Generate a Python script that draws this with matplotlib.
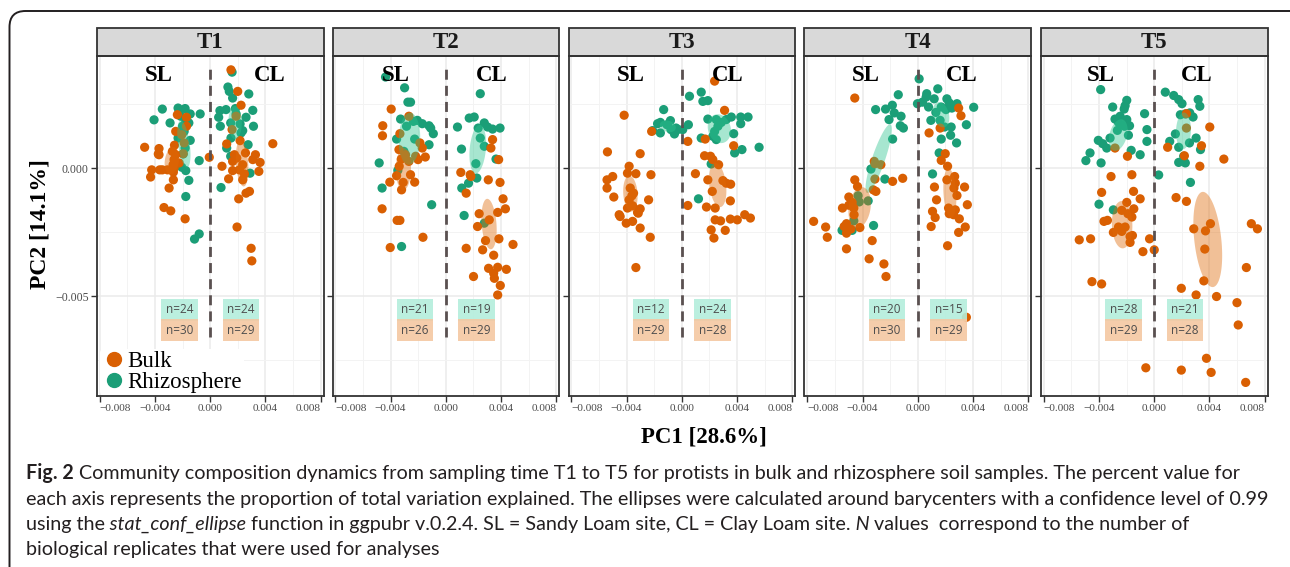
import numpy as np
import matplotlib
matplotlib.use("Agg")
import matplotlib.pyplot as plt
from matplotlib.patches import Rectangle, FancyBboxPatch, Polygon
from matplotlib.lines import Line2D
from matplotlib.transforms import IdentityTransform, ScaledTranslation

# ---------------- data (PCoA coordinates, in units of 1e-3) ----------------
UNIT = 1e-3
times = ["T1", "T2", "T3", "T4", "T5"]

T1_SL_rhizo_x = [-3.47,-4.07,-2.91,-2.33,-1.82,-1.45,-0.73,-2.13,-1.77,-1.55,-2.01,-2.33,-1.45,-1.82,-1.96,-0.80,-2.06,-1.77,-1.55,-1.77,-0.80,-1.14,-1.89,-2.25]
T1_SL_rhizo_y = [2.30,1.88,1.76,2.34,2.32,2.11,2.11,2.02,1.82,1.76,1.63,1.17,1.08,0.78,0.55,0.29,0.03,-0.10,-0.48,-1.11,-2.57,-2.77,1.43,2.21]
T1_SL_bulk_x = [-2.38,-1.72,-1.72,-2.50,-2.06,-1.89,-4.75,-3.71,-3.76,-2.59,-2.74,-1.96,-2.62,-2.69,-3.47,-3.66,-4.24,-4.32,-2.67,-2.67,-2.98,-3.35,-2.86,-1.82,-0.07,-3.71,-2.50,-2.62,-3.10,-2.25]
T1_SL_bulk_y = [2.08,1.98,1.63,1.43,1.30,0.98,0.81,0.76,0.55,0.89,0.65,0.56,0.33,0.13,-0.07,-0.07,-0.07,-0.35,-0.16,-0.46,-0.78,-1.54,-1.67,-1.98,0.42,0.52,0.52,0.00,-0.07,0.20]
T1_CL_rhizo_x = [1.58,1.28,1.38,1.62,2.79,0.70,1.14,1.82,3.08,0.61,2.59,1.48,2.16,3.13,0.73,2.35,1.50,2.23,2.74,1.19,1.48,2.88,0.78,1.87]
T1_CL_rhizo_y = [3.74,3.16,2.99,2.73,2.89,2.24,2.28,2.32,2.25,1.98,1.98,1.76,1.72,1.63,1.63,1.46,1.17,1.37,0.91,0.78,0.46,-0.20,-0.76,2.11]
T1_CL_bulk_x = [1.50,1.99,2.23,1.87,1.58,2.16,1.19,4.53,2.55,3.27,3.08,3.61,0.85,1.62,2.35,1.62,3.52,2.11,2.47,1.33,2.84,2.59,2.06,1.94,2.96,3.01,1.92,2.35,1.75]
T1_CL_bulk_y = [3.83,2.99,2.45,2.02,1.50,1.07,0.94,0.95,0.59,0.52,0.33,0.22,0.07,0.26,0.13,-0.10,-0.13,-0.07,-0.23,-0.42,-0.91,-0.98,-1.20,-2.30,-3.13,-3.62,0.39,-0.46,0.52]

T2_SL_rhizo_x = [-4.36,-2.98,-2.74,-2.55,-3.27,-2.84,-2.35,-2.06,-1.70,-1.21,-1.09,-0.90,-2.25,-3.56,-3.03,-4.82,-3.47,-4.61,-1.02,-3.20,-1.21]
T2_SL_rhizo_y = [3.55,3.13,2.57,2.57,1.91,1.63,1.82,1.86,1.73,1.65,1.56,1.34,1.13,1.13,0.65,0.20,-0.09,-0.78,-1.43,-3.06,0.91]
T2_SL_bulk_x = [-3.95,-2.67,-4.56,-4.58,-3.32,-1.87,-1.70,-3.39,-2.91,-2.18,-2.01,-1.48,-3.22,-3.37,-2.67,-2.55,-3.56,-3.08,-4.05,-2.25,-3.20,-4.61,-3.52,-3.32,-1.65,-4.02]
T2_SL_bulk_y = [2.30,2.02,1.65,1.26,1.34,0.98,0.78,0.72,0.52,0.46,0.33,0.43,0.35,0.07,0.26,-0.26,-0.30,-0.56,-0.55,-0.55,-0.85,-1.59,-2.04,-2.04,-2.70,-3.10]
T2_CL_rhizo_x = [2.50,1.70,2.06,0.85,2.35,2.79,3.03,3.39,3.93,2.50,2.79,1.14,2.18,3.64,2.25,1.65,1.16,1.33,2.79]
T2_CL_rhizo_y = [2.90,1.95,1.99,1.60,1.56,1.76,1.60,1.52,1.56,1.17,0.85,0.74,0.17,0.35,-0.39,-0.59,-0.78,-1.85,-2.15]
T2_CL_bulk_x = [3.39,3.27,3.83,1.09,1.77,3.08,3.93,1.48,4.15,4.32,3.76,2.42,2.30,2.88,3.85,4.87,1.48,2.67,3.47,3.10,3.76,4.39,3.47,3.52,2.01,3.95,3.76,3.15,1.82]
T2_CL_bulk_y = [1.11,0.78,0.33,-0.17,-0.26,-0.46,-0.56,-0.98,-1.20,-1.59,-1.73,-1.78,-2.28,-2.83,-2.76,-2.98,-3.13,-3.19,-3.40,-3.91,-3.87,-3.95,-4.10,-4.30,-4.23,-4.58,-4.95,-2.02,-0.33]

T3_SL_rhizo_x = [-1.31,-1.55,-1.75,-0.82,-1.07,-2.11,-1.55,-0.78,-0.53,-0.29,0.07,-0.41]
T3_SL_rhizo_y = [2.28,1.78,1.73,1.85,1.69,1.46,1.37,1.50,1.33,1.50,1.50,1.56]
T3_SL_bulk_x = [-4.17,-2.18,-5.38,-3.01,-3.81,-3.93,-3.32,-5.00,-5.41,-2.23,-5.41,-4.92,-3.61,-3.81,-2.40,-3.93,-3.56,-3.01,-3.20,-4.53,-4.02,-3.56,-3.01,-2.28,-3.32,-3.73,-3.49,-3.15,-4.46]
T3_SL_bulk_y = [2.06,1.43,0.63,0.56,0.07,-0.20,-0.22,-0.33,-0.46,-0.26,-0.78,-1.13,-1.08,-1.24,-1.24,-1.56,-1.47,-1.59,-1.73,-1.82,-2.15,-2.08,-2.34,-2.70,-3.88,-0.78,-0.98,-1.76,-1.89]
T3_CL_rhizo_x = [1.41,0.56,1.53,1.89,1.89,2.50,2.86,3.22,3.59,4.27,4.80,4.27,2.62,2.38,2.25,2.50,1.41,0.48,3.76,5.60,4.36,3.83,2.13,1.21]
T3_CL_rhizo_y = [2.96,2.80,2.60,2.63,1.91,1.89,1.78,1.89,1.99,1.99,1.99,1.73,1.63,1.43,1.24,1.11,1.17,1.69,1.34,0.81,0.72,0.59,0.16,-1.20]
T3_CL_bulk_x = [2.38,3.10,1.70,0.44,3.76,1.65,2.08,2.25,2.67,0.99,1.89,2.98,3.22,3.54,2.21,3.52,0.44,1.79,2.42,2.42,2.81,3.52,4.02,4.56,4.97,2.13,3.15,2.33]
T3_CL_bulk_y = [3.39,2.25,1.13,1.04,0.87,0.48,0.46,0.33,0.13,-0.22,-0.46,-0.49,-0.59,-0.63,-0.91,-1.28,-1.46,-1.52,-1.56,-2.02,-2.06,-1.99,-2.02,-1.82,-1.95,-2.41,-2.43,-2.73]

T4_SL_rhizo_x = [-1.41,-3.05,-2.33,-1.84,-1.70,-1.21,-2.08,-1.26,-1.04,-1.82,-3.39,-2.38,-4.32,-4.24,-3.59,-4.63,-5.48,-4.75,-3.20]
T4_SL_rhizo_y = [2.86,2.28,2.30,2.45,2.15,2.02,1.89,1.65,1.56,1.13,-0.04,-0.43,-1.08,-1.32,-1.28,-2.06,-2.43,-2.43,-2.24]
T4_SL_bulk_x = [-4.56,-3.15,-3.10,-2.67,-3.10,-4.56,-4.36,-3.22,-3.03,-1.82,-1.09,-4.99,-4.75,-4.63,-5.45,-7.54,-6.67,-6.55,-5.16,-5.16,-4.19,-5.16,-3.30,-3.52,-2.45,-2.30,-4.99,-5.33,-4.85,-4.61]
T4_SL_bulk_y = [2.73,0.26,0.17,0.13,-0.43,-0.46,-0.72,-0.85,-0.91,-0.52,-0.40,-1.13,-1.34,-1.56,-1.56,-2.08,-2.30,-2.70,-2.17,-2.54,-2.32,-3.15,-2.83,-3.54,-3.74,-4.23,-1.45,-2.28,-2.38,-1.82]
T4_CL_rhizo_x = [0.10,0.65,0.61,1.45,1.19,0.34,-0.02,0.78,1.31,1.70,2.11,2.28,2.84,4.05,2.47,2.04,1.62,0.95,1.94,2.42,3.52,1.70,2.38,2.81,1.55,1.07]
T4_CL_rhizo_y = [3.48,2.90,2.77,3.09,2.70,2.57,2.51,2.38,2.17,2.38,2.70,2.54,2.51,2.37,2.34,2.28,1.86,1.86,1.60,1.60,1.69,1.13,1.28,0.98,0.59,-0.23]
T4_CL_bulk_x = [2.96,3.13,1.62,0.82,1.99,1.70,2.16,2.67,2.11,2.72,3.39,1.21,2.62,2.84,1.36,3.59,2.23,2.72,1.07,2.28,2.59,1.26,3.01,0.97,3.44,2.96,2.16,3.52]
T4_CL_bulk_y = [2.34,2.04,1.56,1.37,0.56,0.30,0.07,-0.33,-0.46,-0.59,-0.74,-0.74,-0.78,-1.07,-1.24,-1.43,-1.56,-1.63,-1.69,-1.78,-1.82,-1.93,-1.98,-2.28,-2.30,-2.51,-3.03,-5.82]

T5_SL_rhizo_x = [-3.88,-3.01,-2.18,-1.99,-2.11,-0.70,-2.84,-2.59,-2.23,-1.79,-2.67,-0.53,-1.87,-4.05,-3.73,-3.44,-0.53,-1.67,-4.65,-4.95,-3.85,-1.02,-4.00,-2.96,-3.20,-2.47,-1.99,-2.16]
T5_SL_rhizo_y = [3.06,2.38,2.30,2.64,2.43,2.12,1.91,1.78,1.69,1.65,1.47,1.50,1.28,1.08,0.95,0.78,1.04,0.69,0.59,0.29,0.20,0.52,-1.41,-1.63,1.17,2.02,1.89,1.63]
T5_SL_bulk_x = [-2.84,-1.94,-3.13,-1.62,-3.81,-1.50,-1.02,-1.99,-2.35,-1.48,-1.91,-1.62,-3.39,-3.64,-2.59,-2.11,-2.96,-2.35,-1.75,-1.58,-1.75,-0.34,-5.43,-4.61,-0.82,0.00,-4.51,-3.81,-0.61]
T5_SL_bulk_y = [0.78,0.46,-0.33,-0.26,-0.95,-0.91,-1.20,-1.34,-1.65,-1.59,-1.78,-1.91,-2.04,-2.08,-2.30,-2.30,-2.51,-2.47,-2.67,-2.63,-2.90,-2.76,-2.80,-2.76,-3.26,-3.19,-4.43,-4.52,-7.79]
T5_CL_rhizo_x = [0.80,1.41,1.77,2.01,3.18,3.30,1.89,2.25,2.81,2.57,1.53,1.12,3.03,2.55,1.77,3.35,2.13,1.77,2.25,0.32,2.62]
T5_CL_rhizo_y = [2.96,2.83,2.67,2.51,2.67,2.41,2.08,2.11,1.99,2.15,1.33,1.04,1.17,0.98,0.81,0.72,0.46,0.22,0.20,-0.27,-0.56]
T5_CL_bulk_x = [2.33,2.33,4.02,0.97,3.42,2.18,5.04,3.30,1.58,2.33,7.03,7.47,4.07,2.86,3.71,3.66,6.67,3.59,1.96,3.03,4.51,5.99,6.08,3.78,1.96,4.12,6.62]
T5_CL_bulk_y = [2.12,1.56,1.60,0.81,0.87,0.48,0.35,0.07,-1.15,-1.30,-2.17,-2.37,-2.17,-2.37,-2.45,-3.16,-3.88,-4.40,-4.69,-4.95,-5.01,-5.25,-6.12,-7.42,-7.88,-7.97,-8.36]

# number of biological replicates (label text)
n_rhizo_SL = [24, 21, 12, 20, 28]
n_rhizo_CL = [24, 19, 24, 15, 21]
n_bulk_SL = [30, 26, 29, 30, 29]
n_bulk_CL = [29, 29, 28, 29, 28]

x_ticks = [-0.008, -0.004, 0.0, 0.004, 0.008]
y_ticks = [-0.005, 0.0]

# ---------------- styling ----------------
W, H = 1290, 567
C_BULK = "#D95F02"
C_RHIZO = "#1B9E77"
ELL_BULK = "#DF6A08"
ELL_RHIZO = "#2EC48F"
BOX_RHIZO = "#B4EEDC"
BOX_BULK = "#F4C8A2"
SERIF = ["Liberation Serif", "DejaVu Serif"]
SANS = ["Open Sans", "DejaVu Sans"]
CAP = ["Lato", "DejaVu Sans"]
TXT = "#231F20"

XLIM = (-0.0082, 0.0082)
YLIM = (-0.00889, 0.00437)
SL_LABEL_X = [-0.0037, -0.00365, -0.0037, -0.00375, -0.00385]
CL_LABEL_X = [0.0043, 0.0033, 0.0033, 0.0032, 0.0031]
LABEL_Y = 0.0036
N_LABEL_X = 0.00222
N_RHIZO_Y = -0.00553
N_BULK_Y = -0.00633
DIV_TOP, DIV_BOT = 0.0039, -0.0066

panel_left = [97, 332.5, 568.5, 804.5, 1041]
panel_w = 226.5
panel_top, panel_bot = 56, 396
strip_h = 28

fig = plt.figure(figsize=(W / 100, H / 100), dpi=100)
fig.patch.set_facecolor("white")

# outer rounded frame
frame = FancyBboxPatch((9.5, -40), 1300, H - 11 + 40,
                       boxstyle="round,pad=0,rounding_size=16",
                       transform=IdentityTransform(), fill=False,
                       ec=TXT, lw=1.4)
fig.add_artist(frame)


def conf_ellipse(x, y, level=0.99, npts=100):
    x = np.asarray(x); y = np.asarray(y)
    cov = np.cov(np.vstack([x, y])) / len(x)
    t = np.sqrt(-2 * np.log(1 - level))
    sx, sy = np.sqrt(cov[0, 0]), np.sqrt(cov[1, 1])
    r = np.clip(cov[0, 1] / (sx * sy), -1, 1)
    d = np.arccos(r)
    a = np.linspace(0, 2 * np.pi, npts)
    return np.column_stack([t * sx * np.cos(a + d / 2) + x.mean(),
                            t * sy * np.cos(a - d / 2) + y.mean()])


def fmt(v):
    return ("\u2212%.3f" % abs(v)) if v < 0 else "%.3f" % v


g = globals()
for i, tname in enumerate(times):
    ax = fig.add_axes([panel_left[i] / W, 1 - panel_bot / H,
                       panel_w / W, (panel_bot - panel_top) / H])
    ax.set_xlim(XLIM)
    ax.set_ylim(YLIM)
    ax.set_xticks(x_ticks)
    ax.set_xticklabels([fmt(v) for v in x_ticks], family=SERIF, fontsize=8.2, color="#4D4D4D")
    # edge labels are pulled inward so neighbouring panels' labels do not collide
    xtl = ax.get_xticklabels()
    xtl[0].set_horizontalalignment("left")
    xtl[0].set_transform(xtl[0].get_transform() + ScaledTranslation(-3 / 72, 0, fig.dpi_scale_trans))
    xtl[-1].set_horizontalalignment("right")
    ax.set_xticks([-0.006, -0.002, 0.002, 0.006], minor=True)
    ax.set_yticks([0.0025, -0.0025, -0.0075], minor=True)
    ax.set_yticks(y_ticks)
    if i == 0:
        ax.set_yticklabels([fmt(v) for v in y_ticks], family=SERIF, fontsize=8.6, color="#4D4D4D")
    else:
        ax.set_yticklabels([])
        ax.tick_params(axis="y", length=0)
    ax.tick_params(which="major", length=4, width=1.0, color="#333333", pad=2)
    ax.tick_params(which="minor", length=0)
    ax.grid(which="major", color="#EBEBEB", lw=1.1, zorder=0)
    ax.grid(which="minor", color="#F3F3F3", lw=0.7, zorder=0)
    ax.set_axisbelow(True)
    for sp in ax.spines.values():
        sp.set_color("#333333")
        sp.set_linewidth(1.3)
        sp.set_zorder(8)

    # points
    for site in ["SL", "CL"]:
        for grp, col in [("rhizo", C_RHIZO), ("bulk", C_BULK)]:
            xs = np.array(g[f"{tname}_{site}_{grp}_x"]) * UNIT
            ys = np.array(g[f"{tname}_{site}_{grp}_y"]) * UNIT
            ax.scatter(xs, ys, s=44, color=col, edgecolors="none", zorder=2)
    # confidence ellipses around barycenters
    for site in ["SL", "CL"]:
        for grp, col in [("rhizo", ELL_RHIZO), ("bulk", ELL_BULK)]:
            xs = np.array(g[f"{tname}_{site}_{grp}_x"]) * UNIT
            ys = np.array(g[f"{tname}_{site}_{grp}_y"]) * UNIT
            ax.add_patch(Polygon(conf_ellipse(xs, ys), closed=True,
                                 facecolor=col, alpha=0.42, edgecolor="none", zorder=3))

    ax.vlines(0, DIV_BOT, DIV_TOP, colors="#5A5050", lw=2.0,
              linestyles=(0, (3.6, 2.2)), zorder=4)

    ax.text(SL_LABEL_X[i], LABEL_Y, "SL", family=SERIF, fontweight="bold",
            fontsize=16.5, ha="center", va="center", color="black", zorder=6)
    ax.text(CL_LABEL_X[i], LABEL_Y, "CL", family=SERIF, fontweight="bold",
            fontsize=16.5, ha="center", va="center", color="black", zorder=6)

    for xpos, nr, nb in [(-N_LABEL_X, n_rhizo_SL[i], n_bulk_SL[i]),
                         (N_LABEL_X, n_rhizo_CL[i], n_bulk_CL[i])]:
        ax.text(xpos, N_RHIZO_Y, f"n={nr}", family=SANS, fontsize=8.5, color="#4D4D4D",
                ha="center", va="center", zorder=6,
                bbox=dict(boxstyle="square,pad=0.38", fc=BOX_RHIZO, ec="none", alpha=0.9))
        ax.text(xpos, N_BULK_Y, f"n={nb}", family=SANS, fontsize=8.5, color="#4D4D4D",
                ha="center", va="center", zorder=6,
                bbox=dict(boxstyle="square,pad=0.38", fc=BOX_BULK, ec="none", alpha=0.9))

    # facet strip
    sh = strip_h / (panel_bot - panel_top)
    ax.add_patch(Rectangle((0, 1.0), 1, sh, transform=ax.transAxes, clip_on=False,
                           facecolor="#D9D9D9", edgecolor="#333333", lw=1.3, zorder=5))
    ax.text(0.5, 1 + sh / 2, tname, transform=ax.transAxes, ha="center", va="center",
            family=SERIF, fontweight="bold", fontsize=16.5, color="#1A1A1A", zorder=6)

    if i == 0:
        handles = [Line2D([], [], ls="none", marker="o", ms=10, color=C_BULK, label="Bulk"),
                   Line2D([], [], ls="none", marker="o", ms=10, color=C_RHIZO, label="Rhizosphere")]
        leg = ax.legend(handles=handles, loc="lower left", bbox_to_anchor=(0.012, 0.0),
                        prop={"family": SERIF, "size": 16.5}, frameon=True,
                        facecolor="white", edgecolor="none", framealpha=1,
                        handletextpad=0.1, handlelength=1.0, labelspacing=0.0,
                        borderpad=0.1, borderaxespad=0.02)
        leg.set_zorder(7)

# axis titles
fig.text(704 / W, 1 - 437 / H, "PC1 [28.6%]", family=SERIF, fontweight="bold",
         fontsize=16.5, ha="center", va="center", color="black")
fig.text(40 / W, 1 - 224 / H, "PC2 [14.1%]", family=SERIF, fontweight="bold",
         fontsize=17, ha="center", va="center", rotation=90, color="black")

# caption
caption_lines = [
    [("Fig. 2", "bold", "normal"),
     (" Community composition dynamics from sampling time T1 to T5 for protists in bulk and rhizosphere soil samples. The percent value for", "normal", "normal")],
    [("each axis represents the proportion of total variation explained. The ellipses were calculated around barycenters with a confidence level of 0.99", "normal", "normal")],
    [("using the", "normal", "normal"), (" stat_conf_ellipse", "normal", "italic"),
     (" function in ggpubr v.0.2.4. SL = Sandy Loam site, CL = Clay Loam site.", "normal", "normal"),
     (" N", "normal", "italic"),
     (" values  correspond to the number of", "normal", "normal")],
    [("biological replicates that were used for analyses", "normal", "normal")],
]
baselines = [479, 504.5, 530, 555.5]
CAP_SIZE = 14.25
renderer = fig.canvas.get_renderer()
for line, yb in zip(caption_lines, baselines):
    xpx = 26
    for txt, wt, st in line:
        t = fig.text(xpx / W, 1 - yb / H, txt, family=CAP, fontweight=wt, fontstyle=st,
                     fontsize=CAP_SIZE, color=TXT, ha="left", va="baseline")
        bb = t.get_window_extent(renderer)
        xpx = bb.x1

fig.savefig("out.png", dpi=100)
